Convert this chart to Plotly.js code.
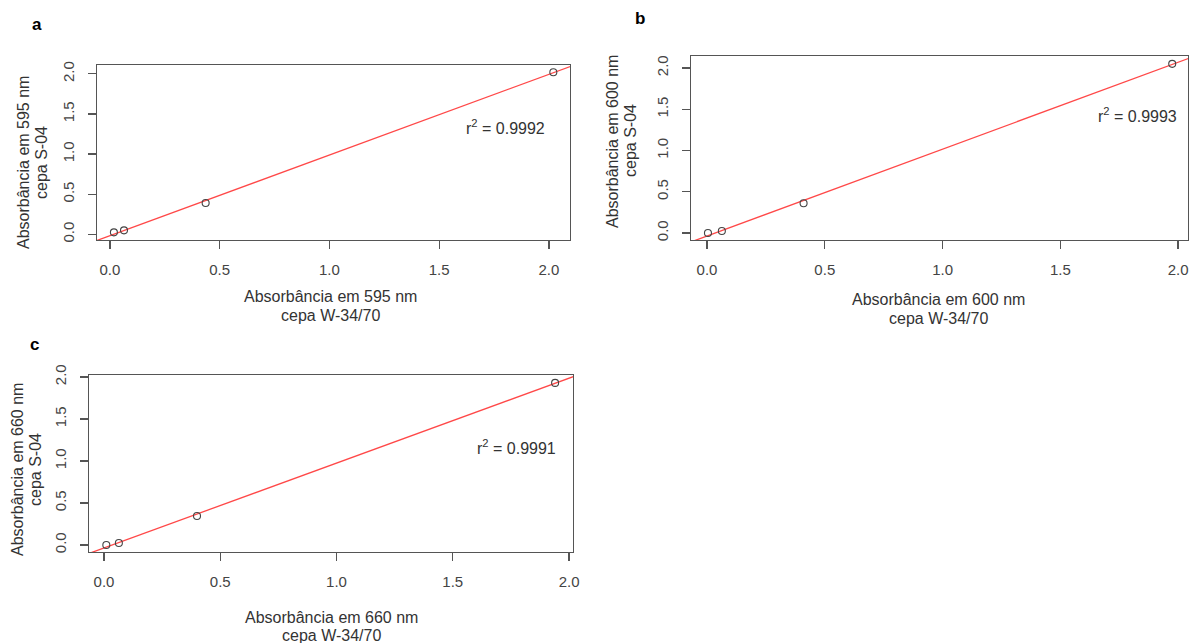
<!DOCTYPE html>
<html>
<head>
<meta charset="utf-8">
<script src="https://cdn.plot.ly/plotly-3.0.1.min.js"></script>
<style>html,body{margin:0;padding:0;background:#fff;}#chart{width:1190px;height:643px;}</style>
</head>
<body>
<div id="chart"></div>
<script>
// ---- data ----
const panelLetters = ['a', 'b', 'c'];
const wavelengths = ['595', '600', '660'];
const r2Values = ['0.9992', '0.9993', '0.9991'];
const strainX = 'cepa W-34/70';
const strainY = 'cepa S-04';

const xA = [0.018, 0.064, 0.436, 2.02];
const yA = [0.025, 0.05, 0.39, 2.02];
const xB = [0.004, 0.063, 0.41, 1.975];
const yB = [0.0, 0.024, 0.36, 2.05];
const xC = [0.01, 0.064, 0.40, 1.94];
const yC = [0.0, 0.024, 0.345, 1.93];

const tickVals = [0, 0.5, 1, 1.5, 2];
const tickText = ['0.0', '0.5', '1.0', '1.5', '2.0'];

// ---- layout helpers ----
const W = 1190, H = 643;
const px = v => v / W, py = v => 1 - v / H;
const FONT = 'Liberation Sans, Arial, sans-serif';
const TXT = '#333';

function fit(x, y) {
  const n = x.length;
  const mx = x.reduce((a, b) => a + b, 0) / n, my = y.reduce((a, b) => a + b, 0) / n;
  let sxy = 0, sxx = 0;
  for (let i = 0; i < n; i++) { sxy += (x[i] - mx) * (y[i] - my); sxx += (x[i] - mx) ** 2; }
  const b = sxy / sxx; return { a: my - b * mx, b };
}

const panels = [
  { x: xA, y: yA, xr: [-0.059, 2.096], yr: [-0.07, 2.11], dx: [97, 570], dy: [240, 65],
    letter: [37, 24], xt: [330, 297, 315], yt: [23, 41, 163], r2: [1.613, 1.34] },
  { x: xB, y: yB, xr: [-0.068, 2.042], yr: [-0.085, 2.145], dx: [691, 1188], dy: [240, 56],
    letter: [640, 19], xt: [938, 299, 318], yt: [612, 630, 141], r2: [1.652, 1.43] },
  { x: xC, y: yC, xr: [-0.0645, 2.017], yr: [-0.083, 2.024], dx: [89, 573], dy: [552, 375],
    letter: [34, 344], xt: [331, 617, 635], yt: [17, 35, 470], r2: [1.594, 1.167] }
];

const traces = [], annotations = [];
const layout = {
  width: W, height: H, margin: { l: 0, r: 0, t: 0, b: 0 },
  paper_bgcolor: '#fff', plot_bgcolor: '#fff', showlegend: false,
  font: { family: FONT, color: TXT }
};

panels.forEach((p, i) => {
  const s = i === 0 ? '' : String(i + 1);
  const xa = 'x' + s, ya = 'y' + s;
  const f = fit(p.x, p.y);
  const lx = [p.xr[0] - 0.2, p.xr[1] + 0.2];
  traces.push({
    x: lx, y: lx.map(v => f.a + f.b * v), xaxis: xa, yaxis: ya,
    mode: 'lines', line: { color: 'rgba(255,40,40,0.85)', width: 1.3 }, hoverinfo: 'skip'
  });
  traces.push({
    x: p.x, y: p.y, xaxis: xa, yaxis: ya, mode: 'markers', cliponaxis: false,
    marker: { symbol: 'circle-open', size: 7, color: '#444', line: { width: 1.1, color: '#444' } }
  });
  const common = {
    showline: true, mirror: true, linecolor: '#555', linewidth: 1.3,
    ticks: 'outside', ticklen: 8, tickcolor: '#555', tickwidth: 1.3,
    showgrid: false, zeroline: false, tickmode: 'array', tickvals: tickVals, ticktext: tickText,
    tickfont: { family: FONT, size: 15, color: '#444' }, fixedrange: true
  };
  layout['xaxis' + s] = Object.assign({}, common, {
    domain: [px(p.dx[0]), px(p.dx[1])], range: p.xr, anchor: ya, ticklabelstandoff: 8
  });
  layout['yaxis' + s] = Object.assign({}, common, {
    domain: [py(p.dy[0]), py(p.dy[1])], range: p.yr, anchor: xa, tickangle: -90, ticklabelstandoff: 8
  });
  const tf = { family: FONT, size: 16, color: TXT };
  annotations.push(
    { xref: 'paper', yref: 'paper', x: px(p.letter[0]), y: py(p.letter[1]), text: '<b>' + panelLetters[i] + '</b>',
      showarrow: false, font: { family: FONT, size: 17, color: '#000' }, xanchor: 'center', yanchor: 'middle' },
    { xref: 'paper', yref: 'paper', x: px(p.xt[0]), y: py(p.xt[1]), text: 'Absorbância em ' + wavelengths[i] + ' nm',
      showarrow: false, font: tf, xanchor: 'center', yanchor: 'middle' },
    { xref: 'paper', yref: 'paper', x: px(p.xt[0]), y: py(p.xt[2]), text: strainX,
      showarrow: false, font: tf, xanchor: 'center', yanchor: 'middle' },
    { xref: 'paper', yref: 'paper', x: px(p.yt[0]), y: py(p.yt[2]), text: 'Absorbância em ' + wavelengths[i] + ' nm',
      showarrow: false, font: tf, textangle: -90, xanchor: 'center', yanchor: 'middle' },
    { xref: 'paper', yref: 'paper', x: px(p.yt[1]), y: py(p.yt[2]), text: strainY,
      showarrow: false, font: tf, textangle: -90, xanchor: 'center', yanchor: 'middle' },
    { xref: xa, yref: ya, x: p.r2[0], y: p.r2[1], text: 'r<sup>2</sup> = ' + r2Values[i],
      showarrow: false, font: tf, xanchor: 'left', yanchor: 'middle' }
  );
});
layout.annotations = annotations;

Plotly.newPlot('chart', traces, layout, { staticPlot: true, displayModeBar: false });
</script>
</body>
</html>
